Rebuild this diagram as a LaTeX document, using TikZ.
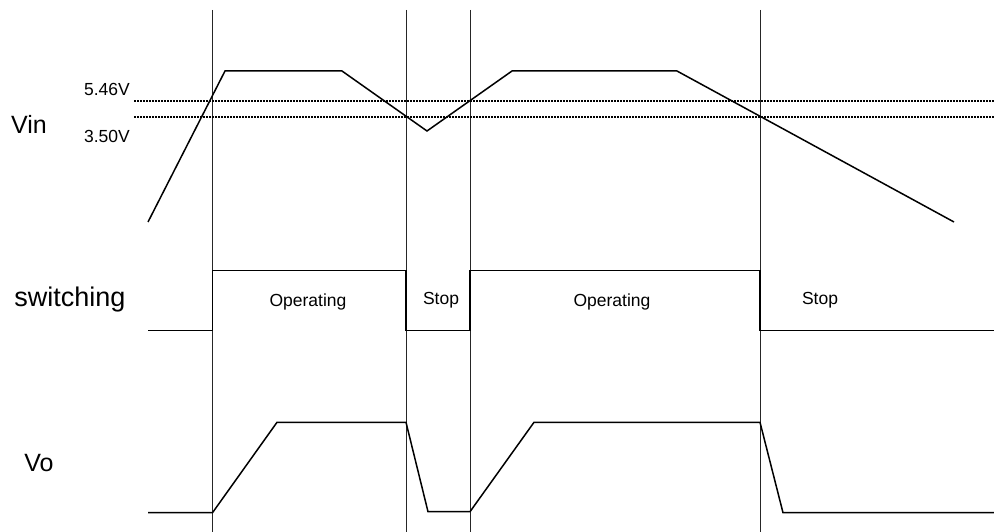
\documentclass[tikz,border=0pt]{standalone}
\usepackage{fontspec}
\setmainfont{Liberation Sans}
\usepackage{tikz}

\begin{document}
\begin{tikzpicture}[x=1pt,y=-1pt,
    wave/.style={line width=1.5pt,line join=miter},
    mark line/.style={line width=0.9pt,black!85},
    level/.style={line width=2.3pt,dash pattern=on 2pt off 1pt},
    big/.style={font=\fontsize{25}{28}\selectfont},
    small/.style={font=\fontsize{17.5}{20}\selectfont}]
      \useasboundingbox (0,0) rectangle (994,532);

      \foreach \x in {212.5,406,470,760}
        \draw[mark line] (\x,10) -- (\x,532);

      \draw[level] (134,101) -- (994,101);
      \draw[level] (134,117) -- (994,117);

      \node[big] (vin) at (29,124) {Vin};
      \node[big,font=\fontsize{27}{30}\selectfont] (sw) at (70,300) {switching};
      \node[big] (vo) at (39,463) {Vo};
      \node[small] (hi) at (107,89) {5.46V};
      \node[small] (lo) at (107,136) {3.50V};
      \node[small] (op1) at (308,302) {Operating};
      \node[small] (st1) at (441,300) {Stop};
      \node[small] (op2) at (612,302) {Operating};
      \node[small] (st2) at (820,300) {Stop};

      \draw[wave] (148,222) -- (225,71) -- (342,71) -- (427,131) -- (512,71)
        -- (677,71) -- (954,222);
      \draw[wave] (148,330.7) -- (212.5,330.7) -- (212.5,270.7) -- (406,270.7)
        -- (406,330.7) -- (470,330.7) -- (470,270.7) -- (760,270.7)
        -- (760,330.7) -- (994,330.7);
      \draw[wave] (148,512.7) -- (212.5,512.7) -- (277,422.3) -- (406,422.3)
        -- (428,511.7) -- (470,511.7) -- (534,422.3) -- (760,422.3)
        -- (783,512.7) -- (994,512.7);
    \end{tikzpicture}
\end{document}
